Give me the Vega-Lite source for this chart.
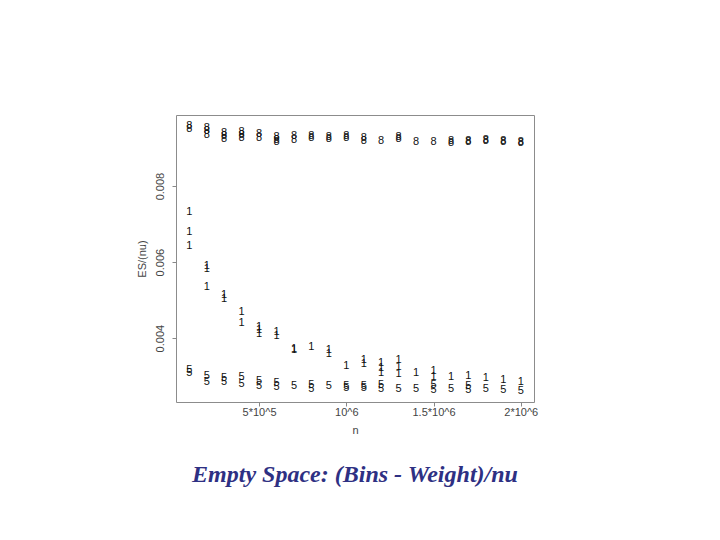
{
  "$schema": "https://vega.github.io/schema/vega-lite/v6.json",
  "autosize": {"type": "none"},
  "width": 358,
  "height": 287,
  "padding": {"left": 176, "top": 115, "right": 186, "bottom": 138},
  "background": "white",
  "config": {
    "view": {"stroke": "#8c8c8c", "strokeWidth": 1},
    "axis": {"labelFont": "Liberation Sans", "titleFont": "Liberation Sans", "labelColor": "#444", "titleColor": "#444", "labelFontSize": 11, "titleFontSize": 11, "titleFontWeight": "normal", "grid": false, "domain": false, "tickColor": "#888", "tickSize": 4}
  },
  "title": {
    "text": "Empty Space: (Bins - Weight)/nu",
    "orient": "bottom",
    "anchor": "middle",
    "font": "Liberation Serif",
    "fontSize": 24,
    "fontStyle": "italic",
    "fontWeight": "bold",
    "color": "#2e3083",
    "offset": 28,
    "baseline": "top"
  },
  "data": {"values": [
    {"n": 100000, "v": 0.00959, "s": "8"}, {"n": 100000, "v": 0.00951, "s": "8"},
    {"n": 200000, "v": 0.00953, "s": "8"}, {"n": 200000, "v": 0.00945, "s": "8"}, {"n": 200000, "v": 0.00934, "s": "8"},
    {"n": 300000, "v": 0.00939, "s": "8"}, {"n": 300000, "v": 0.00932, "s": "8"}, {"n": 300000, "v": 0.00924, "s": "8"},
    {"n": 400000, "v": 0.00942, "s": "8"}, {"n": 400000, "v": 0.00934, "s": "8"}, {"n": 400000, "v": 0.00926, "s": "8"},
    {"n": 500000, "v": 0.00937, "s": "8"}, {"n": 500000, "v": 0.00926, "s": "8"},
    {"n": 600000, "v": 0.00929, "s": "8"}, {"n": 600000, "v": 0.00921, "s": "8"}, {"n": 600000, "v": 0.00916, "s": "8"},
    {"n": 700000, "v": 0.00932, "s": "8"}, {"n": 700000, "v": 0.00921, "s": "8"},
    {"n": 800000, "v": 0.00932, "s": "8"}, {"n": 800000, "v": 0.00926, "s": "8"},
    {"n": 900000, "v": 0.00929, "s": "8"}, {"n": 900000, "v": 0.00924, "s": "8"},
    {"n": 1000000, "v": 0.00932, "s": "8"}, {"n": 1000000, "v": 0.00926, "s": "8"},
    {"n": 1100000, "v": 0.00926, "s": "8"}, {"n": 1100000, "v": 0.00918, "s": "8"},
    {"n": 1200000, "v": 0.00918, "s": "8"},
    {"n": 1300000, "v": 0.00929, "s": "8"}, {"n": 1300000, "v": 0.00924, "s": "8"},
    {"n": 1400000, "v": 0.00916, "s": "8"},
    {"n": 1500000, "v": 0.00916, "s": "8"},
    {"n": 1600000, "v": 0.00918, "s": "8"}, {"n": 1600000, "v": 0.00913, "s": "8"},
    {"n": 1700000, "v": 0.00918, "s": "8"}, {"n": 1700000, "v": 0.00916, "s": "8"},
    {"n": 1800000, "v": 0.00921, "s": "8"}, {"n": 1800000, "v": 0.00918, "s": "8"},
    {"n": 1900000, "v": 0.00918, "s": "8"}, {"n": 1900000, "v": 0.00916, "s": "8"},
    {"n": 2000000, "v": 0.00916, "s": "8"}, {"n": 2000000, "v": 0.00913, "s": "8"},

    {"n": 100000, "v": 0.00732, "s": "1"}, {"n": 100000, "v": 0.00680, "s": "1"}, {"n": 100000, "v": 0.00643, "s": "1"},
    {"n": 200000, "v": 0.00589, "s": "1"}, {"n": 200000, "v": 0.00582, "s": "1"}, {"n": 200000, "v": 0.00534, "s": "1"},
    {"n": 300000, "v": 0.00513, "s": "1"}, {"n": 300000, "v": 0.00503, "s": "1"},
    {"n": 400000, "v": 0.00468, "s": "1"}, {"n": 400000, "v": 0.00439, "s": "1"},
    {"n": 500000, "v": 0.00429, "s": "1"}, {"n": 500000, "v": 0.00421, "s": "1"}, {"n": 500000, "v": 0.00411, "s": "1"},
    {"n": 600000, "v": 0.00416, "s": "1"}, {"n": 600000, "v": 0.00405, "s": "1"},
    {"n": 700000, "v": 0.00371, "s": "1"}, {"n": 700000, "v": 0.00368, "s": "1"},
    {"n": 800000, "v": 0.00376, "s": "1"},
    {"n": 900000, "v": 0.00368, "s": "1"}, {"n": 900000, "v": 0.00358, "s": "1"},
    {"n": 1000000, "v": 0.00326, "s": "1"},
    {"n": 1100000, "v": 0.00342, "s": "1"}, {"n": 1100000, "v": 0.00332, "s": "1"},
    {"n": 1200000, "v": 0.00334, "s": "1"}, {"n": 1200000, "v": 0.00321, "s": "1"}, {"n": 1200000, "v": 0.00308, "s": "1"},
    {"n": 1300000, "v": 0.00342, "s": "1"}, {"n": 1300000, "v": 0.00324, "s": "1"}, {"n": 1300000, "v": 0.00305, "s": "1"},
    {"n": 1400000, "v": 0.00308, "s": "1"},
    {"n": 1500000, "v": 0.00313, "s": "1"}, {"n": 1500000, "v": 0.00297, "s": "1"},
    {"n": 1600000, "v": 0.00297, "s": "1"},
    {"n": 1700000, "v": 0.00300, "s": "1"},
    {"n": 1800000, "v": 0.00295, "s": "1"},
    {"n": 1900000, "v": 0.00289, "s": "1"},
    {"n": 2000000, "v": 0.00284, "s": "1"},

    {"n": 100000, "v": 0.00317, "s": "5"}, {"n": 100000, "v": 0.00309, "s": "5"},
    {"n": 200000, "v": 0.00300, "s": "5"}, {"n": 200000, "v": 0.00284, "s": "5"},
    {"n": 300000, "v": 0.00295, "s": "5"}, {"n": 300000, "v": 0.00284, "s": "5"},
    {"n": 400000, "v": 0.00297, "s": "5"}, {"n": 400000, "v": 0.00279, "s": "5"},
    {"n": 500000, "v": 0.00287, "s": "5"}, {"n": 500000, "v": 0.00274, "s": "5"},
    {"n": 600000, "v": 0.00282, "s": "5"}, {"n": 600000, "v": 0.00271, "s": "5"},
    {"n": 700000, "v": 0.00274, "s": "5"},
    {"n": 800000, "v": 0.00276, "s": "5"}, {"n": 800000, "v": 0.00266, "s": "5"},
    {"n": 900000, "v": 0.00274, "s": "5"},
    {"n": 1000000, "v": 0.00274, "s": "5"}, {"n": 1000000, "v": 0.00268, "s": "5"},
    {"n": 1100000, "v": 0.00274, "s": "5"}, {"n": 1100000, "v": 0.00268, "s": "5"},
    {"n": 1200000, "v": 0.00276, "s": "5"}, {"n": 1200000, "v": 0.00266, "s": "5"},
    {"n": 1300000, "v": 0.00266, "s": "5"},
    {"n": 1400000, "v": 0.00266, "s": "5"},
    {"n": 1500000, "v": 0.00276, "s": "5"}, {"n": 1500000, "v": 0.00263, "s": "5"},
    {"n": 1600000, "v": 0.00266, "s": "5"},
    {"n": 1700000, "v": 0.00274, "s": "5"}, {"n": 1700000, "v": 0.00263, "s": "5"},
    {"n": 1800000, "v": 0.00266, "s": "5"},
    {"n": 1900000, "v": 0.00263, "s": "5"},
    {"n": 2000000, "v": 0.00261, "s": "5"}
  ]},
  "mark": {"type": "text", "font": "Liberation Sans", "fontSize": 11, "color": "#111", "align": "center", "baseline": "middle"},
  "encoding": {
    "x": {
      "field": "n", "type": "quantitative",
      "scale": {"domain": [24000, 2076000], "nice": false, "zero": false},
      "axis": {"title": "n", "values": [500000, 1000000, 1500000, 2000000],
        "labelExpr": "datum.value == 500000 ? '5*10^5' : datum.value == 1000000 ? '10^6' : datum.value == 1500000 ? '1.5*10^6' : '2*10^6'",
        "labelPadding": 0, "titlePadding": 7}
    },
    "y": {
      "field": "v", "type": "quantitative",
      "scale": {"domain": [0.00232, 0.00987], "nice": false, "zero": false},
      "axis": {"title": "ES/(nu)", "values": [0.004, 0.006, 0.008], "format": ".3f",
        "labelAngle": 270, "labelAlign": "center", "labelBaseline": "bottom", "labelPadding": 7, "titlePadding": 7}
    },
    "text": {"field": "s"}
  }
}
